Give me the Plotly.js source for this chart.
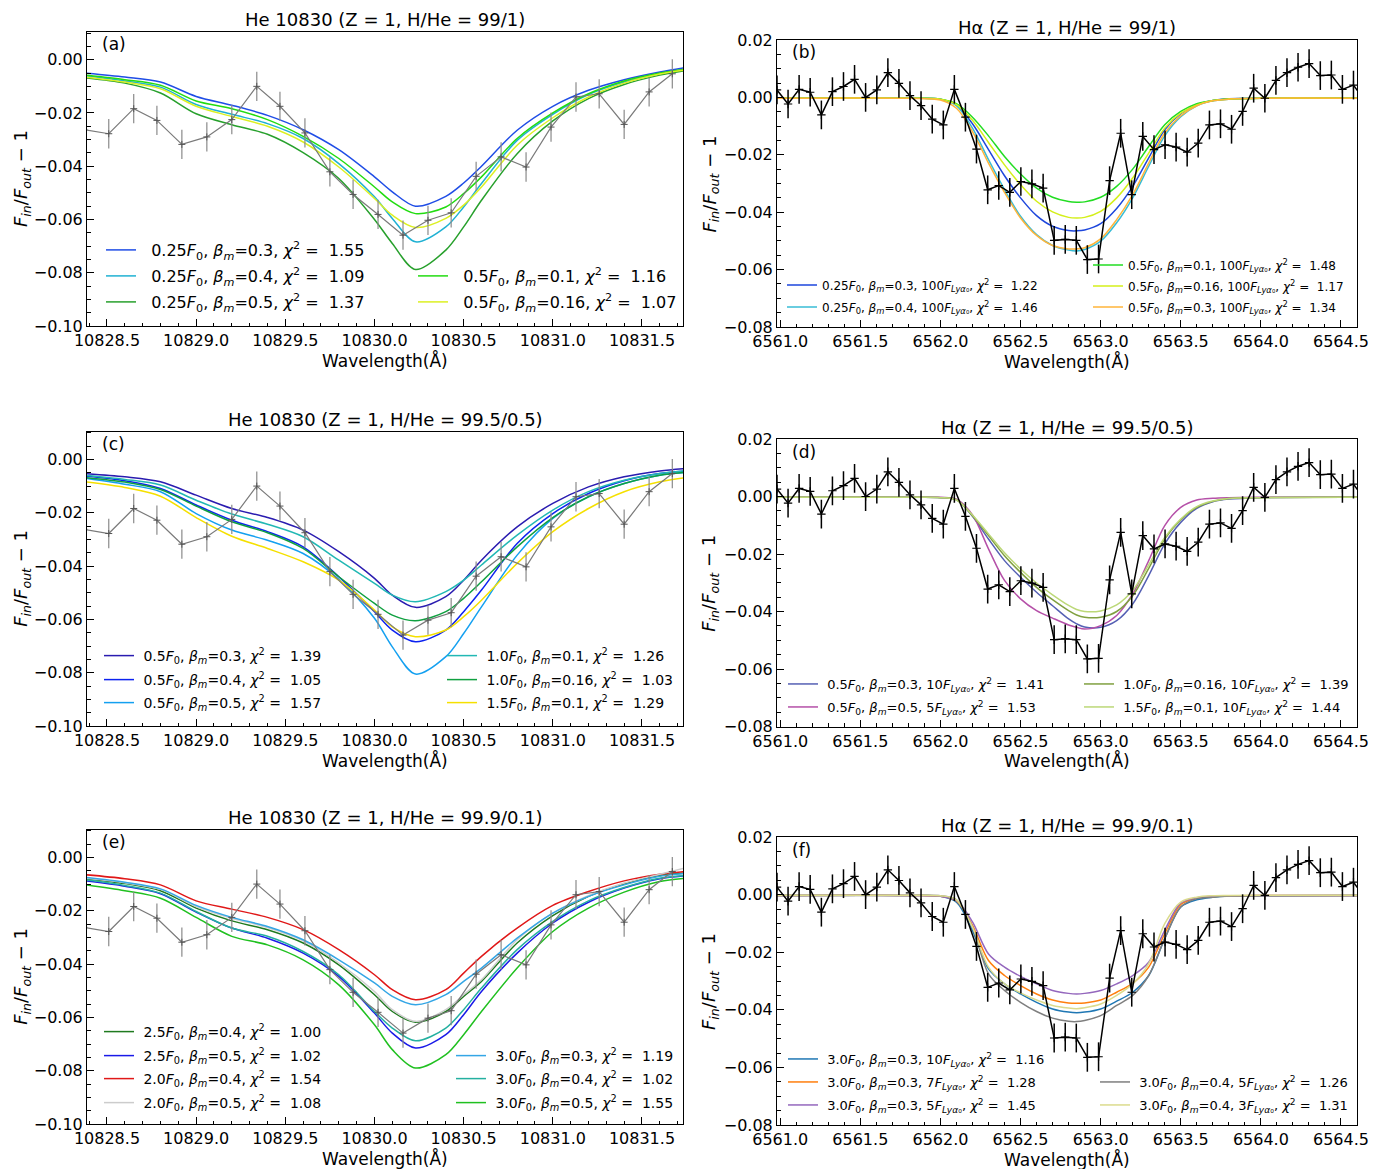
<!DOCTYPE html>
<html>
<head>
<meta charset="utf-8">
<script src="https://cdn.plot.ly/plotly-3.0.1.min.js"></script>
<style>html,body{margin:0;padding:0;background:#fff;}#chart{width:1384px;height:1169px;}</style>
</head>
<body>
<div id="chart"></div>
<script>
// ---------- observed data ----------
const heWave = [10828.37, 10828.51, 10828.65, 10828.78, 10828.92, 10829.06, 10829.20, 10829.34, 10829.47, 10829.61, 10829.75, 10829.88, 10830.02, 10830.16, 10830.30, 10830.43, 10830.57, 10830.71, 10830.85, 10830.99, 10831.13, 10831.26, 10831.40, 10831.54, 10831.67];
const heFlux = [-0.0262, -0.0278, -0.0184, -0.0228, -0.0318, -0.0290, -0.0225, -0.0100, -0.0175, -0.0275, -0.0421, -0.0506, -0.0581, -0.0659, -0.0603, -0.0575, -0.0438, -0.0365, -0.0403, -0.0253, -0.0140, -0.0128, -0.0243, -0.0121, -0.0053];
const heErr = [0.0055, 0.0055, 0.0055, 0.0055, 0.0055, 0.0055, 0.0055, 0.0055, 0.0055, 0.0055, 0.0055, 0.0055, 0.0055, 0.0055, 0.0055, 0.0055, 0.0055, 0.0055, 0.0055, 0.0055, 0.0055, 0.0055, 0.0055, 0.0055, 0.0055];

const haWave = [6560.980, 6561.049, 6561.118, 6561.187, 6561.257, 6561.326, 6561.395, 6561.464, 6561.533, 6561.603, 6561.672, 6561.741, 6561.810, 6561.879, 6561.949, 6562.018, 6562.087, 6562.156, 6562.225, 6562.295, 6562.364, 6562.433, 6562.502, 6562.571, 6562.641, 6562.710, 6562.779, 6562.848, 6562.917, 6562.987, 6563.056, 6563.125, 6563.194, 6563.263, 6563.333, 6563.402, 6563.471, 6563.540, 6563.609, 6563.679, 6563.748, 6563.817, 6563.886, 6563.955, 6564.025, 6564.094, 6564.163, 6564.232, 6564.301, 6564.371, 6564.440, 6564.509, 6564.578, 6564.647];
const haFlux = [0.0026, -0.0023, 0.0028, 0.0018, -0.0061, 0.0020, 0.0038, 0.0063, 0.0000, 0.0026, 0.0086, 0.0049, 0.0006, -0.0029, -0.0076, -0.0096, 0.0028, -0.0069, -0.0180, -0.0322, -0.0307, -0.0331, -0.0293, -0.0301, -0.0316, -0.0498, -0.0495, -0.0498, -0.0565, -0.0563, -0.0290, -0.0125, -0.0339, -0.0136, -0.0182, -0.0165, -0.0173, -0.0191, -0.0159, -0.0096, -0.0092, -0.0111, -0.0049, 0.0032, -0.0003, 0.0059, 0.0086, 0.0105, 0.0118, 0.0076, 0.0078, 0.0028, 0.0043, -0.0010];
const haErr = [0.005, 0.005, 0.005, 0.005, 0.005, 0.005, 0.005, 0.005, 0.005, 0.005, 0.005, 0.005, 0.005, 0.005, 0.005, 0.005, 0.005, 0.005, 0.005, 0.005, 0.005, 0.005, 0.005, 0.005, 0.005, 0.005, 0.005, 0.005, 0.005, 0.005, 0.005, 0.005, 0.005, 0.005, 0.005, 0.005, 0.005, 0.005, 0.005, 0.005, 0.005, 0.005, 0.005, 0.005, 0.005, 0.005, 0.005, 0.005, 0.005, 0.005, 0.005, 0.005, 0.005, 0.005];

// ---------- model curves ----------
const heGrid = [10828.38, 10828.6, 10828.8, 10829.0, 10829.2, 10829.4, 10829.6, 10829.8, 10830.0, 10830.1, 10830.23, 10830.4, 10830.5, 10830.6, 10830.8, 10831.0, 10831.2, 10831.4, 10831.6, 10831.74];
const haGrid = [6560.98, 6561.8, 6562.0, 6562.1, 6562.2, 6562.3, 6562.4, 6562.5, 6562.6, 6562.7, 6562.8, 6562.85, 6562.9, 6563.0, 6563.1, 6563.2, 6563.3, 6563.4, 6563.5, 6563.6, 6563.7, 6563.8, 6564.0, 6564.6];

// (a) He, H/He = 99/1
const a_F025_b03 = [-0.0050, -0.0065, -0.0084, -0.0138, -0.0171, -0.0209, -0.0263, -0.0338, -0.0440, -0.0496, -0.0550, -0.0513, -0.0463, -0.0400, -0.0265, -0.0175, -0.0115, -0.0075, -0.0046, -0.0030];
const a_F025_b04 = [-0.0061, -0.0080, -0.0103, -0.0168, -0.0205, -0.0240, -0.0296, -0.0390, -0.0515, -0.0596, -0.0684, -0.0628, -0.0553, -0.0465, -0.0303, -0.0205, -0.0131, -0.0084, -0.0053, -0.0038];
const a_F025_b05 = [-0.0068, -0.0088, -0.0125, -0.0203, -0.0244, -0.0280, -0.0349, -0.0446, -0.0600, -0.0690, -0.0788, -0.0715, -0.0628, -0.0528, -0.0353, -0.0230, -0.0146, -0.0093, -0.0058, -0.0041];
const a_F05_b01 = [-0.0058, -0.0075, -0.0096, -0.0155, -0.0184, -0.0225, -0.0288, -0.0371, -0.0478, -0.0534, -0.0578, -0.0553, -0.0503, -0.0440, -0.0296, -0.0200, -0.0128, -0.0080, -0.0050, -0.0036];
const a_F05_b016 = [-0.0065, -0.0084, -0.0109, -0.0175, -0.0213, -0.0250, -0.0309, -0.0403, -0.0521, -0.0584, -0.0630, -0.0596, -0.0546, -0.0478, -0.0321, -0.0218, -0.0140, -0.0088, -0.0054, -0.0039];

// (b) Halpha, H/He = 99/1
const b_F025_b03 = [-0.0003, -0.0003, -0.0006, -0.0027, -0.0092, -0.0182, -0.0273, -0.0350, -0.0412, -0.0449, -0.0464, -0.0465, -0.0462, -0.0440, -0.0387, -0.0310, -0.0211, -0.0113, -0.0057, -0.0026, -0.0011, -0.0005, -0.0003, -0.0003];
const b_F025_b04 = [-0.0003, -0.0003, -0.0006, -0.0029, -0.0107, -0.0217, -0.0321, -0.0414, -0.0478, -0.0516, -0.0532, -0.0535, -0.0530, -0.0501, -0.0437, -0.0350, -0.0240, -0.0134, -0.0067, -0.0029, -0.0012, -0.0006, -0.0003, -0.0003];
const b_F05_b01 = [-0.0003, -0.0003, -0.0006, -0.0022, -0.0069, -0.0134, -0.0206, -0.0267, -0.0316, -0.0348, -0.0363, -0.0365, -0.0364, -0.0348, -0.0310, -0.0250, -0.0171, -0.0095, -0.0049, -0.0022, -0.0011, -0.0006, -0.0003, -0.0003];
const b_F05_b016 = [-0.0003, -0.0003, -0.0006, -0.0025, -0.0080, -0.0157, -0.0235, -0.0304, -0.0362, -0.0399, -0.0418, -0.0420, -0.0418, -0.0397, -0.0350, -0.0281, -0.0194, -0.0107, -0.0055, -0.0026, -0.0011, -0.0006, -0.0003, -0.0003];
const b_F05_b03 = [-0.0003, -0.0003, -0.0009, -0.0038, -0.0119, -0.0229, -0.0331, -0.0420, -0.0481, -0.0516, -0.0528, -0.0528, -0.0524, -0.0493, -0.0426, -0.0339, -0.0229, -0.0124, -0.0064, -0.0029, -0.0012, -0.0006, -0.0003, -0.0003];

// (c) He, H/He = 99.5/0.5
const c_F05_b03 = [-0.0053, -0.0065, -0.0084, -0.0134, -0.0184, -0.0218, -0.0265, -0.0346, -0.0446, -0.0509, -0.0555, -0.0515, -0.0453, -0.0378, -0.0253, -0.0165, -0.0103, -0.0065, -0.0043, -0.0034];
const c_F05_b04 = [-0.0063, -0.0080, -0.0109, -0.0171, -0.0228, -0.0271, -0.0328, -0.0440, -0.0571, -0.0640, -0.0684, -0.0640, -0.0571, -0.0490, -0.0315, -0.0203, -0.0128, -0.0080, -0.0053, -0.0044];
const c_F05_b05 = [-0.0071, -0.0093, -0.0121, -0.0203, -0.0265, -0.0303, -0.0353, -0.0450, -0.0596, -0.0703, -0.0805, -0.0740, -0.0653, -0.0553, -0.0359, -0.0221, -0.0140, -0.0090, -0.0059, -0.0049];
const c_F10_b01 = [-0.0060, -0.0075, -0.0096, -0.0153, -0.0205, -0.0243, -0.0290, -0.0378, -0.0465, -0.0509, -0.0534, -0.0496, -0.0453, -0.0396, -0.0284, -0.0190, -0.0121, -0.0078, -0.0053, -0.0043];
const c_F10_b016 = [-0.0068, -0.0085, -0.0113, -0.0175, -0.0234, -0.0275, -0.0334, -0.0440, -0.0540, -0.0584, -0.0605, -0.0571, -0.0521, -0.0459, -0.0328, -0.0218, -0.0140, -0.0090, -0.0059, -0.0048];
const c_F15_b01 = [-0.0084, -0.0105, -0.0138, -0.0218, -0.0288, -0.0334, -0.0384, -0.0453, -0.0565, -0.0628, -0.0665, -0.0640, -0.0590, -0.0528, -0.0390, -0.0271, -0.0184, -0.0121, -0.0084, -0.0069];

// (d) Halpha, H/He = 99.5/0.5
const d_F05_b03 = [-0.0003, -0.0003, -0.0004, -0.0011, -0.0069, -0.0148, -0.0223, -0.0281, -0.0333, -0.0380, -0.0426, -0.0443, -0.0454, -0.0455, -0.0432, -0.0374, -0.0275, -0.0165, -0.0090, -0.0041, -0.0018, -0.0009, -0.0004, -0.0003];
const d_F05_b05 = [-0.0003, -0.0003, -0.0003, -0.0009, -0.0064, -0.0182, -0.0292, -0.0356, -0.0397, -0.0423, -0.0447, -0.0455, -0.0461, -0.0449, -0.0414, -0.0339, -0.0223, -0.0101, -0.0038, -0.0012, -0.0006, -0.0004, -0.0003, -0.0003];
const d_F10_b016 = [-0.0003, -0.0003, -0.0004, -0.0012, -0.0067, -0.0136, -0.0206, -0.0264, -0.0316, -0.0359, -0.0397, -0.0412, -0.0420, -0.0420, -0.0400, -0.0345, -0.0250, -0.0148, -0.0081, -0.0038, -0.0017, -0.0007, -0.0004, -0.0003];
const d_F15_b01 = [-0.0003, -0.0003, -0.0004, -0.0012, -0.0064, -0.0130, -0.0196, -0.0252, -0.0301, -0.0342, -0.0379, -0.0393, -0.0400, -0.0398, -0.0377, -0.0327, -0.0238, -0.0142, -0.0078, -0.0035, -0.0016, -0.0007, -0.0004, -0.0003];

// (e) He, H/He = 99.9/0.1
const e_F25_b04 = [-0.0080, -0.0098, -0.0125, -0.0190, -0.0238, -0.0271, -0.0321, -0.0403, -0.0515, -0.0578, -0.0618, -0.0578, -0.0521, -0.0465, -0.0321, -0.0218, -0.0146, -0.0100, -0.0068, -0.0059];
const e_F25_b05 = [-0.0088, -0.0108, -0.0136, -0.0205, -0.0265, -0.0303, -0.0359, -0.0446, -0.0584, -0.0659, -0.0715, -0.0665, -0.0590, -0.0503, -0.0359, -0.0246, -0.0168, -0.0115, -0.0080, -0.0069];
const e_F20_b04 = [-0.0065, -0.0080, -0.0103, -0.0163, -0.0194, -0.0225, -0.0271, -0.0346, -0.0440, -0.0496, -0.0534, -0.0496, -0.0434, -0.0371, -0.0265, -0.0180, -0.0128, -0.0088, -0.0063, -0.0053];
const e_F20_b05 = [-0.0078, -0.0095, -0.0120, -0.0184, -0.0228, -0.0263, -0.0313, -0.0396, -0.0503, -0.0571, -0.0615, -0.0571, -0.0515, -0.0459, -0.0309, -0.0209, -0.0144, -0.0096, -0.0063, -0.0040];
const e_F30_b03 = [-0.0075, -0.0093, -0.0118, -0.0180, -0.0225, -0.0259, -0.0309, -0.0384, -0.0471, -0.0521, -0.0553, -0.0515, -0.0465, -0.0415, -0.0303, -0.0209, -0.0146, -0.0103, -0.0071, -0.0061];
const e_F30_b04 = [-0.0084, -0.0105, -0.0134, -0.0203, -0.0265, -0.0296, -0.0353, -0.0440, -0.0578, -0.0640, -0.0688, -0.0640, -0.0571, -0.0490, -0.0346, -0.0240, -0.0163, -0.0113, -0.0078, -0.0068];
const e_F30_b05 = [-0.0103, -0.0125, -0.0153, -0.0225, -0.0296, -0.0328, -0.0384, -0.0478, -0.0628, -0.0721, -0.0790, -0.0740, -0.0665, -0.0578, -0.0415, -0.0278, -0.0190, -0.0130, -0.0090, -0.0078];

// (f) Halpha, H/He = 99.9/0.1
const f_b03_L10 = [-0.0003, -0.0003, -0.0006, -0.0026, -0.0125, -0.0258, -0.0310, -0.0345, -0.0374, -0.0397, -0.0408, -0.0410, -0.0408, -0.0397, -0.0370, -0.0339, -0.0281, -0.0153, -0.0043, -0.0018, -0.0009, -0.0005, -0.0004, -0.0003];
const f_b03_L7 = [-0.0003, -0.0003, -0.0006, -0.0022, -0.0107, -0.0229, -0.0281, -0.0316, -0.0345, -0.0366, -0.0376, -0.0377, -0.0376, -0.0366, -0.0339, -0.0308, -0.0252, -0.0136, -0.0034, -0.0012, -0.0006, -0.0004, -0.0003, -0.0003];
const f_b03_L5 = [-0.0003, -0.0003, -0.0006, -0.0020, -0.0095, -0.0206, -0.0252, -0.0284, -0.0310, -0.0333, -0.0343, -0.0345, -0.0343, -0.0333, -0.0310, -0.0281, -0.0235, -0.0124, -0.0029, -0.0011, -0.0006, -0.0004, -0.0003, -0.0003];
const f_b04_L5 = [-0.0003, -0.0003, -0.0004, -0.0018, -0.0113, -0.0275, -0.0333, -0.0374, -0.0406, -0.0429, -0.0440, -0.0441, -0.0437, -0.0420, -0.0385, -0.0350, -0.0281, -0.0153, -0.0043, -0.0014, -0.0009, -0.0005, -0.0004, -0.0003];
const f_b04_L3 = [-0.0002, -0.0002, -0.0004, -0.0018, -0.0113, -0.0252, -0.0310, -0.0341, -0.0366, -0.0385, -0.0394, -0.0396, -0.0393, -0.0380, -0.0350, -0.0310, -0.0240, -0.0101, -0.0026, -0.0009, -0.0004, -0.0003, -0.0002, -0.0002];

// ---------- legend labels ----------
const aF = ['0.25', '0.25', '0.25', '0.5', '0.5'];
const aBeta = ['0.3', '0.4', '0.5', '0.1', '0.16'];
const aChi = ['1.55', '1.09', '1.37', '1.16', '1.07'];
const bF = ['0.25', '0.25', '0.5', '0.5', '0.5'];
const bBeta = ['0.3', '0.4', '0.1', '0.16', '0.3'];
const bLya = ['100', '100', '100', '100', '100'];
const bChi = ['1.22', '1.46', '1.48', '1.17', '1.34'];
const cF = ['0.5', '0.5', '0.5', '1.0', '1.0', '1.5'];
const cBeta = ['0.3', '0.4', '0.5', '0.1', '0.16', '0.1'];
const cChi = ['1.39', '1.05', '1.57', '1.26', '1.03', '1.29'];
const dF = ['0.5', '0.5', '1.0', '1.5'];
const dBeta = ['0.3', '0.5', '0.16', '0.1'];
const dLya = ['10', '5', '10', '10'];
const dChi = ['1.41', '1.53', '1.39', '1.44'];
const eF = ['2.5', '2.5', '2.0', '2.0', '3.0', '3.0', '3.0'];
const eBeta = ['0.4', '0.5', '0.4', '0.5', '0.3', '0.4', '0.5'];
const eChi = ['1.00', '1.02', '1.54', '1.08', '1.19', '1.02', '1.55'];
const fF = ['3.0', '3.0', '3.0', '3.0', '3.0'];
const fBeta = ['0.3', '0.3', '0.3', '0.4', '0.4'];
const fLya = ['10', '7', '5', '5', '3'];
const fChi = ['1.16', '1.28', '1.45', '1.26', '1.31'];

const titles = ['He 10830 (Z = 1, H/He = 99/1)', 'Hα (Z = 1, H/He = 99/1)', 'He 10830 (Z = 1, H/He = 99.5/0.5)', 'Hα (Z = 1, H/He = 99.5/0.5)', 'He 10830 (Z = 1, H/He = 99.9/0.1)', 'Hα (Z = 1, H/He = 99.9/0.1)'];
const panelTags = ['(a)', '(b)', '(c)', '(d)', '(e)', '(f)'];

// ---------- build ----------
const W = 1384, H = 1169;
const FONT = 'DejaVu Sans, Verdana, sans-serif';
const px = v => v / W, py = v => 1 - v / H;
const NB = '\u00a0';

function heLabel(F, b, chi) {
  return F + '<i>F</i><sub>0</sub>, <i>β</i><sub><i>m</i></sub>=' + b + ', <i>χ</i><sup>2</sup> = ' + NB + chi;
}
function haLabel(F, b, L, chi) {
  return F + '<i>F</i><sub>0</sub>, <i>β</i><sub><i>m</i></sub>=' + b + ', ' + L + '<i>F</i><sub><i>Lyα</i>\u2080</sub>, <i>χ</i><sup>2</sup> = ' + NB + chi;
}

// plot boxes in pixels [left, right, top, bottom]
const boxes = [[87, 683, 32, 326], [777, 1357, 40, 327], [87, 683, 431.7, 726], [777, 1357, 439, 726.5], [87, 683, 829.7, 1124], [777, 1357, 837, 1125]];

const panels = [
  {grid: heGrid, he: true, pad: NB + NB, curves: [
    {y: a_F025_b03, c: '#1f4de6', t: heLabel(aF[0], aBeta[0], aChi[0]), lx: 106, ly: 250},
    {y: a_F025_b04, c: '#1fb1d3', t: heLabel(aF[1], aBeta[1], aChi[1]), lx: 106, ly: 276},
    {y: a_F025_b05, c: '#27a02c', t: heLabel(aF[2], aBeta[2], aChi[2]), lx: 106, ly: 302},
    {y: a_F05_b01, c: '#22dc10', t: heLabel(aF[3], aBeta[3], aChi[3]), lx: 418, ly: 276},
    {y: a_F05_b016, c: '#dcf022', t: heLabel(aF[4], aBeta[4], aChi[4]), lx: 418, ly: 302}],
   lfont: 16},
  {grid: haGrid, he: false, pad: '', curves: [
    {y: b_F025_b03, c: '#1d46dc', t: haLabel(bF[0], bBeta[0], bLya[0], bChi[0]), lx: 787, ly: 285},
    {y: b_F025_b04, c: '#38bcd6', t: haLabel(bF[1], bBeta[1], bLya[1], bChi[1]), lx: 787, ly: 307},
    {y: b_F05_b01, c: '#22dd22', t: haLabel(bF[2], bBeta[2], bLya[2], bChi[2]), lx: 1093, ly: 265},
    {y: b_F05_b016, c: '#d4ef1a', t: haLabel(bF[3], bBeta[3], bLya[3], bChi[3]), lx: 1093, ly: 286},
    {y: b_F05_b03, c: '#ffb43a', t: haLabel(bF[4], bBeta[4], bLya[4], bChi[4]), lx: 1093, ly: 307}],
   lfont: 12},
  {grid: heGrid, he: true, pad: NB, curves: [
    {y: c_F05_b03, c: '#2a1cb0', t: heLabel(cF[0], cBeta[0], cChi[0]), lx: 104, ly: 656},
    {y: c_F05_b04, c: '#0c22f0', t: heLabel(cF[1], cBeta[1], cChi[1]), lx: 104, ly: 680},
    {y: c_F05_b05, c: '#14a0f0', t: heLabel(cF[2], cBeta[2], cChi[2]), lx: 104, ly: 703},
    {y: c_F10_b01, c: '#22b8b4', t: heLabel(cF[3], cBeta[3], cChi[3]), lx: 447, ly: 656},
    {y: c_F10_b016, c: '#10a040', t: heLabel(cF[4], cBeta[4], cChi[4]), lx: 447, ly: 680},
    {y: c_F15_b01, c: '#f5e000', t: heLabel(cF[5], cBeta[5], cChi[5]), lx: 447, ly: 703}],
   lfont: 14},
  {grid: haGrid, he: false, pad: NB, curves: [
    {y: d_F05_b03, c: '#5560b4', t: haLabel(dF[0], dBeta[0], dLya[0], dChi[0]), lx: 788, ly: 684},
    {y: d_F05_b05, c: '#b550a8', t: haLabel(dF[1], dBeta[1], dLya[1], dChi[1]), lx: 788, ly: 707},
    {y: d_F10_b016, c: '#80a040', t: haLabel(dF[2], dBeta[2], dLya[2], dChi[2]), lx: 1084, ly: 684},
    {y: d_F15_b01, c: '#bcd878', t: haLabel(dF[3], dBeta[3], dLya[3], dChi[3]), lx: 1084, ly: 707}],
   lfont: 13},
  {grid: heGrid, he: true, pad: NB, curves: [
    {y: e_F25_b04, c: '#1f7a1f', t: heLabel(eF[0], eBeta[0], eChi[0]), lx: 104, ly: 1032},
    {y: e_F25_b05, c: '#1a1ae8', t: heLabel(eF[1], eBeta[1], eChi[1]), lx: 104, ly: 1056},
    {y: e_F20_b04, c: '#e01818', t: heLabel(eF[2], eBeta[2], eChi[2]), lx: 104, ly: 1079},
    {y: e_F20_b05, c: '#cccccc', t: heLabel(eF[3], eBeta[3], eChi[3]), lx: 104, ly: 1103},
    {y: e_F30_b03, c: '#34a6e6', t: heLabel(eF[4], eBeta[4], eChi[4]), lx: 456, ly: 1056},
    {y: e_F30_b04, c: '#24b0a0', t: heLabel(eF[5], eBeta[5], eChi[5]), lx: 456, ly: 1079},
    {y: e_F30_b05, c: '#20c020', t: heLabel(eF[6], eBeta[6], eChi[6]), lx: 456, ly: 1103}],
   lfont: 14},
  {grid: haGrid, he: false, pad: NB, curves: [
    {y: f_b03_L10, c: '#1f77b4', t: haLabel(fF[0], fBeta[0], fLya[0], fChi[0]), lx: 788, ly: 1059},
    {y: f_b03_L7, c: '#ff7f0e', t: haLabel(fF[1], fBeta[1], fLya[1], fChi[1]), lx: 788, ly: 1082},
    {y: f_b03_L5, c: '#9467bd', t: haLabel(fF[2], fBeta[2], fLya[2], fChi[2]), lx: 788, ly: 1105},
    {y: f_b04_L5, c: '#7f7f7f', t: haLabel(fF[3], fBeta[3], fLya[3], fChi[3]), lx: 1100, ly: 1082},
    {y: f_b04_L3, c: '#dbdb8d', t: haLabel(fF[4], fBeta[4], fLya[4], fChi[4]), lx: 1100, ly: 1105}],
   lfont: 13}
];

const traces = [];
const layout = {
  width: W, height: H, margin: {l: 0, r: 0, t: 0, b: 0},
  paper_bgcolor: '#ffffff', plot_bgcolor: '#ffffff',
  font: {family: FONT, color: '#000000'},
  showlegend: true, annotations: []
};

let legendCount = 0;
panels.forEach((p, i) => {
  const n = i + 1;
  const xa = n === 1 ? 'x' : 'x' + n, ya = n === 1 ? 'y' : 'y' + n;
  const xk = n === 1 ? 'xaxis' : 'xaxis' + n, yk = n === 1 ? 'yaxis' : 'yaxis' + n;
  const b = boxes[i];
  const minor = {ticks: 'inside', ticklen: 3.5, tickwidth: 1, tickcolor: '#000', showgrid: false};
  const base = {showline: true, linecolor: '#000', linewidth: 1, mirror: true, ticks: 'inside', ticklen: 7, tickwidth: 1,
    tickcolor: '#000', showgrid: false, zeroline: false, tickfont: {family: FONT, size: 16, color: '#000'}, fixedrange: true};
  layout[xk] = Object.assign({}, base, {
    domain: [px(b[0]), px(b[1])], anchor: ya,
    range: p.he ? [10828.388, 10831.73] : [6560.98, 6564.6],
    tick0: p.he ? 10828.5 : 6561.0, dtick: 0.5, tickformat: '.1f',
    minor: Object.assign({}, minor, {tick0: p.he ? 10828.5 : 6561.0, dtick: 0.1})
  });
  layout[yk] = Object.assign({}, base, {
    domain: [py(b[3]), py(b[2])], anchor: xa,
    range: p.he ? [-0.1, 0.0104] : [-0.08, 0.02],
    tick0: 0, dtick: 0.02, tickformat: '.2f',
    minor: Object.assign({}, minor, {tick0: 0, dtick: 0.005})
  });
  // model curves, each with its own legend box
  p.curves.forEach(c => {
    legendCount += 1;
    const lk = legendCount === 1 ? 'legend' : 'legend' + legendCount;
    traces.push({
      type: 'scatter', mode: 'lines', x: p.grid, y: c.y, xaxis: xa, yaxis: ya,
      line: {color: c.c, width: 1.5, shape: 'spline', smoothing: 0.9},
      name: p.pad + c.t, legend: lk, showlegend: true, hoverinfo: 'skip'
    });
    layout[lk] = {
      x: px(c.lx - 5), y: py(c.ly), xanchor: 'left', yanchor: 'middle',
      bgcolor: 'rgba(0,0,0,0)', borderwidth: 0, itemwidth: 30,
      font: {family: FONT, size: p.lfont, color: '#000'}
    };
  });
  // observations
  if (p.he) {
    traces.push({
      type: 'scatter', mode: 'lines+markers', x: heWave, y: heFlux, xaxis: xa, yaxis: ya,
      line: {color: '#7a7a7a', width: 1.2},
      marker: {symbol: 'cross-thin', size: 5, line: {color: '#555', width: 1}},
      error_y: {type: 'data', array: heErr, visible: true, color: '#8a8a8a', thickness: 1.2, width: 0},
      showlegend: false, hoverinfo: 'skip'
    });
  } else {
    traces.push({
      type: 'scatter', mode: 'lines+markers', x: haWave, y: haFlux, xaxis: xa, yaxis: ya,
      line: {color: '#000', width: 1.5},
      marker: {symbol: 'cross-thin', size: 6, line: {color: '#000', width: 1.2}},
      error_y: {type: 'data', array: haErr, visible: true, color: '#000', thickness: 1.5, width: 0},
      showlegend: false, hoverinfo: 'skip'
    });
  }
  // titles, tags and axis labels
  const cx = (b[0] + b[1]) / 2, cy = (b[2] + b[3]) / 2;
  const ann = (text, x, y, size, extra) => layout.annotations.push(Object.assign({
    text: text, x: px(x), y: py(y), xref: 'paper', yref: 'paper', showarrow: false,
    xanchor: 'center', yanchor: 'middle', font: {family: FONT, size: size, color: '#000'}
  }, extra || {}));
  ann(titles[i], cx, b[2] - 12, 18);
  ann(panelTags[i], b[0] + 13, b[2] + 12.5, 17, {xanchor: 'left'});
  ann('Wavelength(Å)', cx, b[3] + 34, 17);
  ann('<i>F</i><sub><i>in</i></sub>/<i>F</i><sub><i>out</i></sub> − 1', p.he ? 22 : 710, cy, 18, {textangle: -90});
});

Plotly.newPlot('chart', traces, layout, {staticPlot: true, displayModeBar: false});
</script>
</body>
</html>
